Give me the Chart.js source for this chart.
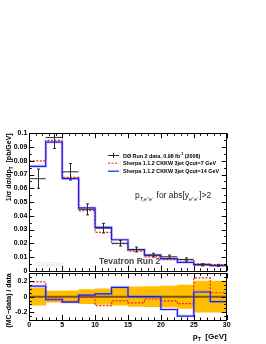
<!DOCTYPE html>
<html>
<head>
<meta charset="utf-8">
<script src="https://cdn.jsdelivr.net/npm/chart.js@4.4.1/dist/chart.umd.min.js"></script>
<style>
html, body { margin: 0; padding: 0; background: #fff; width: 266px; height: 344px; overflow: hidden; }
.box { position: absolute; left: 0; width: 266px; }
#mainBox { top: 120px; height: 160px; }
#ratioBox { top: 262px; height: 82px; }
</style>
</head>
<body>
<div class="box" id="mainBox"><canvas id="mainChart" width="266" height="160"></canvas></div>
<div class="box" id="ratioBox"><canvas id="ratioChart" width="266" height="82"></canvas></div>
<script>
// bins in pT [GeV]
const binEdges = [0, 2.5, 5, 7.5, 10, 12.5, 15, 17.5, 20, 22.5, 25, 27.5, 30];
// D0 data
const dataValues = [0.067, 0.097, 0.072, 0.0447, 0.031, 0.020, 0.0155, 0.0114, 0.0102, 0.0083, 0.0043, 0.004];
const dataErrors = [0.007, 0.008, 0.006, 0.004, 0.0035, 0.002, 0.0018, 0.0014, 0.0012, 0.0011, 0.0008, 0.0007];
// Sherpa predictions
const sherpaQcut7 = [0.080, 0.0948, 0.0679, 0.0438, 0.028, 0.0197, 0.0143, 0.0102, 0.0081, 0.0079, 0.005, 0.0045];
const sherpaQcut14 = [0.076, 0.0936, 0.0671, 0.0457, 0.0316, 0.0226, 0.0154, 0.0114, 0.0088, 0.0062, 0.0045, 0.0038];
// (MC-data)/data
const ratioQcut7 = [0.19, -0.02, -0.06, -0.01, -0.115, -0.055, -0.08, -0.03, -0.055, -0.09, 0.24, 0.05];
const ratioQcut14 = [0.134, -0.04, -0.07, 0.02, 0.035, 0.12, 0, 0, -0.165, -0.25, 0.06, -0.065];
const dataBand = [0.11, 0.07, 0.075, 0.09, 0.1, 0.11, 0.125, 0.13, 0.135, 0.15, 0.2, 0.2];
// ticks
const xTicks = [0, 5, 10, 15, 20, 25, 30];
const yTicksMain = [0, 0.01, 0.02, 0.03, 0.04, 0.05, 0.06, 0.07, 0.08, 0.09, 0.1];
const yTicksRatio = [-0.2, 0, 0.2];

const FAM = '"Liberation Sans", Arial, sans-serif';
const tickFont = { family: FAM, weight: 'bold', size: 7 };
const RED = '#f02020';
const BLUE = '#1c1cf0';
const BLUE_HALO = 'rgba(120,120,255,0.35)';

function stepPoints(vals) {
    const pts = vals.map((v, i) => ({ x: binEdges[i], y: v }));
    pts.push({ x: binEdges[vals.length], y: vals[vals.length - 1] });
    return pts;
}
function binCenters() {
    return binEdges.slice(0, -1).map((e, i) => (e + binEdges[i + 1]) / 2);
}

function drawRich(ctx, parts, x, y, size, bold, align) {
    const w = bold ? 'bold ' : '';
    const fontFor = p => w + (p[1] ? size * 0.65 : size) + 'px ' + FAM;
    let total = 0;
    parts.forEach(p => { ctx.font = fontFor(p); total += ctx.measureText(p[0]).width; });
    let cx = align === 'right' ? x - total : x;
    ctx.textAlign = 'left';
    ctx.textBaseline = 'alphabetic';
    parts.forEach(p => {
        ctx.font = fontFor(p);
        const dy = p[1] === 'sub' ? size * 0.3 : p[1] === 'sup' ? -size * 0.45 : 0;
        ctx.fillText(p[0], cx, y + dy);
        cx += ctx.measureText(p[0]).width;
    });
}

function frameTicks(yMinorStep) {
    return {
        id: 'frameTicks',
        afterDraw(chart) {
            const { ctx, chartArea: a, scales: { x, y } } = chart;
            ctx.save();
            ctx.strokeStyle = '#000';
            ctx.lineWidth = 1;
            ctx.beginPath();
            for (let i = 0; i <= 30; i++) {
                const px = Math.round(x.getPixelForValue(i)) + 0.5;
                const len = i % 5 === 0 ? 5 : 2.5;
                ctx.moveTo(px, a.bottom); ctx.lineTo(px, a.bottom - len);
                ctx.moveTo(px, a.top); ctx.lineTo(px, a.top + len);
            }
            const n = Math.round((y.max - y.min) / yMinorStep);
            for (let i = 0; i <= n; i++) {
                const v = y.min + i * yMinorStep;
                const py = Math.round(y.getPixelForValue(v)) + 0.5;
                const major = y.ticks.some(t => Math.abs(t.value - v) < 1e-9);
                const len = major ? 5 : 2.5;
                ctx.moveTo(a.left, py); ctx.lineTo(a.left + len, py);
                ctx.moveTo(a.right, py); ctx.lineTo(a.right - len, py);
            }
            ctx.stroke();
            ctx.strokeRect(Math.round(a.left) + 0.5, Math.round(a.top) + 0.5,
                Math.round(a.right - a.left), Math.round(a.bottom - a.top));
            ctx.restore();
        }
    };
}

const errorBars = {
    id: 'errorBars',
    afterDatasetsDraw(chart) {
        const { ctx, chartArea: a, scales: { x, y } } = chart;
        ctx.save();
        ctx.beginPath();
        ctx.rect(a.left, a.top, a.right - a.left, a.bottom - a.top);
        ctx.clip();
        ctx.strokeStyle = '#2a2a2a';
        ctx.lineWidth = 1;
        ctx.beginPath();
        binCenters().forEach((c, i) => {
            const xc = Math.round(x.getPixelForValue(c)) + 0.5;
            const yt = y.getPixelForValue(dataValues[i] + dataErrors[i]);
            const yb = y.getPixelForValue(dataValues[i] - dataErrors[i]);
            ctx.moveTo(xc, yt); ctx.lineTo(xc, yb);
            ctx.moveTo(xc - 1.5, yt); ctx.lineTo(xc + 1.5, yt);
            ctx.moveTo(xc - 1.5, yb); ctx.lineTo(xc + 1.5, yb);
        });
        ctx.stroke();
        ctx.restore();
    }
};

const mainTexts = {
    id: 'mainTexts',
    afterDraw(chart) {
        const ctx = chart.ctx;
        ctx.save();
        // y title
        ctx.fillStyle = '#000';
        ctx.save();
        ctx.translate(10.5, chart.chartArea.top);
        ctx.rotate(-Math.PI / 2);
        drawRich(ctx, [['1/σ dσ/dp', 0], ['T', 'sub'], ['  [pb/GeV]', 0]], 0, 0, 7, true, 'right');
        ctx.restore();
        // legend
        const rows = [35, 42.7, 50.7];
        ctx.lineWidth = 1;
        ctx.strokeStyle = '#2a2a2a';
        ctx.beginPath();
        ctx.moveTo(108, rows[0] + 0.5); ctx.lineTo(119, rows[0] + 0.5);
        ctx.moveTo(113.5, rows[0] - 2); ctx.lineTo(113.5, rows[0] + 3);
        ctx.stroke();
        ctx.strokeStyle = RED;
        ctx.setLineDash([2, 1.5]);
        ctx.beginPath(); ctx.moveTo(108, rows[1] + 0.5); ctx.lineTo(119, rows[1] + 0.5); ctx.stroke();
        ctx.setLineDash([]);
        ctx.strokeStyle = BLUE;
        ctx.lineWidth = 1.2;
        ctx.beginPath(); ctx.moveTo(108, rows[2] + 0.5); ctx.lineTo(119, rows[2] + 0.5); ctx.stroke();
        ctx.fillStyle = '#000';
        drawRich(ctx, [['DØ Run 2 data, 0.98 fb', 0], ['-1', 'sup'], [' (2008)', 0]], 123, rows[0] + 2.5, 5.4, true);
        drawRich(ctx, [['Sherpa 1.1.2 CKKW 3jet Qcut=7 GeV', 0]], 123, rows[1] + 2.5, 5.4, true);
        drawRich(ctx, [['Sherpa 1.1.2 CKKW 3jet Qcut=14 GeV', 0]], 123, rows[2] + 2.5, 5.4, true);
        // selection label
        ctx.fillStyle = '#222';
        drawRich(ctx, [['p', 0], ['T,e⁺e⁻', 'sub'], [' for abs[y', 0], ['e⁺e⁻', 'sub'], [']>2', 0]], 135, 78, 8.5, false);
        // watermark and run label
        ctx.fillStyle = '#e8e8e8';
        drawRich(ctx, [['SHERPA', 0]], 36, 146.5, 7, true);
        ctx.fillStyle = '#444';
        drawRich(ctx, [['Tevatron Run 2', 0]], 99, 143.5, 8.5, true);
        ctx.restore();
    }
};

const ratioTexts = {
    id: 'ratioTexts',
    afterDraw(chart) {
        const ctx = chart.ctx;
        ctx.save();
        ctx.fillStyle = '#000';
        ctx.save();
        ctx.translate(10.5, chart.chartArea.top);
        ctx.rotate(-Math.PI / 2);
        drawRich(ctx, [['(MC−data) / data', 0]], 0, 0, 7, true, 'right');
        ctx.restore();
        drawRich(ctx, [['p', 0], ['T', 'sub'], ['  [GeV]', 0]], chart.chartArea.right, 76.5, 8, true, 'right');
        ctx.restore();
    }
};

const hiddenGrid = { display: false, drawTicks: false };

new Chart(document.getElementById('mainChart').getContext('2d'), {
    type: 'line',
    data: {
        datasets: [
            {
                label: 'DØ Run 2 data, 0.98 fb-1 (2008)',
                type: 'scatter',
                data: binCenters().map((c, i) => ({ x: c, y: dataValues[i] })),
                pointStyle: 'line',
                pointRadius: 8.2,
                pointBorderColor: '#2a2a2a',
                pointBorderWidth: 1,
                order: 0
            },
            {
                label: 'Sherpa 1.1.2 CKKW 3jet Qcut=14 GeV',
                data: stepPoints(sherpaQcut14),
                stepped: true,
                borderColor: BLUE,
                borderWidth: 1.2,
                pointRadius: 0,
                order: 1
            },
            {
                label: 'halo',
                data: stepPoints(sherpaQcut14),
                stepped: true,
                borderColor: BLUE_HALO,
                borderWidth: 3,
                pointRadius: 0,
                order: 3
            },
            {
                label: 'Sherpa 1.1.2 CKKW 3jet Qcut=7 GeV',
                data: stepPoints(sherpaQcut7),
                stepped: true,
                borderColor: RED,
                borderWidth: 1.2,
                borderDash: [2, 1.5],
                pointRadius: 0,
                order: 2
            }
        ]
    },
    options: {
        responsive: false,
        animation: false,
        layout: { padding: { left: 0, top: 13.3, right: 39.3, bottom: 6.7 } },
        plugins: { legend: { display: false }, tooltip: { enabled: false } },
        scales: {
            x: { type: 'linear', min: 0, max: 30, display: false, offset: false },
            y: {
                min: 0,
                max: 0.1,
                afterFit: s => { s.width = 29.3; },
                afterBuildTicks: s => { s.ticks = yTicksMain.map(v => ({ value: v })); },
                ticks: { font: tickFont, color: '#000', padding: 2, callback: v => String(+v.toFixed(3)) },
                grid: hiddenGrid,
                border: { display: false }
            }
        }
    },
    plugins: [errorBars, frameTicks(0.005), mainTexts]
});

new Chart(document.getElementById('ratioChart').getContext('2d'), {
    type: 'line',
    data: {
        datasets: [
            {
                label: 'Qcut=14',
                data: stepPoints(ratioQcut14),
                stepped: true,
                borderColor: BLUE,
                borderWidth: 1.2,
                pointRadius: 0,
                order: 1
            },
            {
                label: 'halo',
                data: stepPoints(ratioQcut14),
                stepped: true,
                borderColor: BLUE_HALO,
                borderWidth: 3,
                pointRadius: 0,
                order: 3
            },
            {
                label: 'Qcut=7',
                data: stepPoints(ratioQcut7),
                stepped: true,
                borderColor: RED,
                borderWidth: 1.2,
                borderDash: [2, 1.5],
                pointRadius: 0,
                order: 2
            },
            {
                label: 'zero',
                data: [{ x: binEdges[0], y: 0 }, { x: binEdges[binEdges.length - 1], y: 0 }],
                borderColor: 'rgba(70,55,20,0.75)',
                borderWidth: 2,
                pointRadius: 0,
                order: 4
            },
            {
                label: 'data uncertainty',
                type: 'bar',
                data: binCenters().map((c, i) => ({ x: c, y: [-dataBand[i], dataBand[i]] })),
                backgroundColor: '#ffbf00',
                borderWidth: 0,
                barPercentage: 1,
                categoryPercentage: 1,
                order: 5
            }
        ]
    },
    options: {
        responsive: false,
        animation: false,
        layout: { padding: { left: 0, top: 11.3, right: 39.3, bottom: 0 } },
        plugins: { legend: { display: false }, tooltip: { enabled: false } },
        scales: {
            x: {
                type: 'linear',
                min: 0,
                max: 30,
                offset: false,
                afterFit: s => { s.height = 24; },
                afterBuildTicks: s => { s.ticks = xTicks.map(v => ({ value: v })); },
                ticks: { font: tickFont, color: '#000', padding: 1, maxRotation: 0, autoSkip: false },
                grid: hiddenGrid,
                border: { display: false }
            },
            y: {
                min: -0.3,
                max: 0.3,
                afterFit: s => { s.width = 29.3; },
                afterBuildTicks: s => { s.ticks = yTicksRatio.map(v => ({ value: v })); },
                ticks: { font: tickFont, color: '#000', padding: 2, callback: v => String(+v.toFixed(2)) },
                grid: hiddenGrid,
                border: { display: false }
            }
        }
    },
    plugins: [frameTicks(0.05), ratioTexts]
});
</script>
</body>
</html>
